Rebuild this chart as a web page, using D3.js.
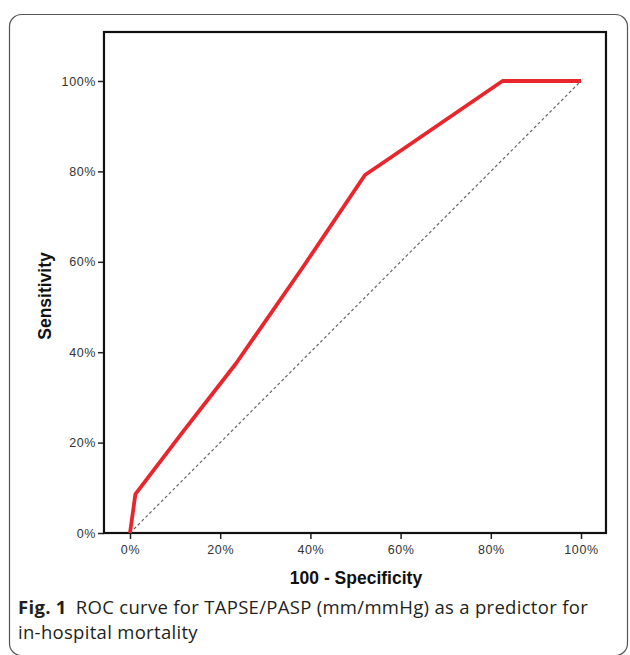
<!DOCTYPE html>
<html>
<head>
<meta charset="utf-8">
<script src="https://cdn.jsdelivr.net/npm/d3@7"></script>
<style>
  body { margin: 0; background: #fff; }
  svg { display: block; }
</style>
</head>
<body>
<svg id="chart" width="630" height="655"></svg>
<script>
// ROC curve points (fractions)
var fpr = [0, 0.012, 0.115, 0.235, 0.384, 0.521, 0.583, 0.826, 1.0];
var tpr = [0, 0.086, 0.221, 0.375, 0.589, 0.792, 0.834, 1.0, 1.0];
var refLine = [0, 1];
var ticks = [0, 0.2, 0.4, 0.6, 0.8, 1.0];
var tickLabels = ['0%', '20%', '40%', '60%', '80%', '100%'];
var xTitle = '100 - Specificity';
var yTitle = 'Sensitivity';
var captionBold = 'Fig. 1';
var captionLines = ['ROC curve for TAPSE/PASP (mm/mmHg) as a predictor for', 'in-hospital mortality'];

var points = fpr.map(function (f, i) { return {x: f, y: tpr[i]}; });

var svg = d3.select('#chart');

// outer rounded panel
svg.append('rect')
  .attr('x', 9.5).attr('y', 14.5)
  .attr('width', 618).attr('height', 641)
  .attr('rx', 12)
  .style('fill', 'none')
  .style('stroke', '#555')
  .style('stroke-width', 1.2);

var x = d3.scaleLinear().domain([0, 1]).range([130, 581]);
var y = d3.scaleLinear().domain([0, 1]).range([533, 81]);

var frame = {left: x(-0.0577), right: x(1.0554), top: y(1.1084), bottom: y(0)};

// axes
var xAxis = svg.append('g')
  .attr('transform', 'translate(0,' + frame.bottom + ')')
  .call(d3.axisBottom(x).tickValues(ticks).tickSize(6).tickPadding(6)
        .tickFormat(function (d, i) { return tickLabels[i]; }));

var yAxis = svg.append('g')
  .attr('transform', 'translate(' + frame.left + ',0)')
  .call(d3.axisLeft(y).tickValues(ticks).tickSize(6).tickPadding(2)
        .tickFormat(function (d, i) { return tickLabels[i]; }));

[xAxis, yAxis].forEach(function (a) {
  a.select('.domain').remove();
  a.selectAll('line').style('stroke', '#222').style('stroke-width', 1.5);
  a.selectAll('text')
    .style('font-family', '"Liberation Sans", Arial, sans-serif')
    .style('font-size', '12.5px')
    .style('letter-spacing', '0.6px')
    .style('fill', '#333');
});

// plot frame
svg.append('rect')
  .attr('x', frame.left).attr('y', frame.top)
  .attr('width', frame.right - frame.left)
  .attr('height', frame.bottom - frame.top)
  .style('fill', 'none')
  .style('stroke', '#111')
  .style('stroke-width', 2.2);

// reference diagonal
svg.append('line')
  .attr('x1', x(refLine[0])).attr('y1', y(refLine[0]))
  .attr('x2', x(refLine[1])).attr('y2', y(refLine[1]))
  .style('stroke', '#666')
  .style('stroke-width', 1.2)
  .style('stroke-dasharray', '3,2.5');

// ROC curve
var line = d3.line()
  .x(function (d) { return x(d.x); })
  .y(function (d) { return y(d.y); });

svg.append('path')
  .datum(points)
  .attr('d', line)
  .style('fill', 'none')
  .style('stroke', '#e8262b')
  .style('stroke-width', 3.8)
  .style('stroke-linejoin', 'round');

// axis titles
svg.append('text')
  .attr('x', (frame.left + frame.right) / 2 + 1)
  .attr('y', 584)
  .attr('text-anchor', 'middle')
  .style('font-family', '"Liberation Sans", Arial, sans-serif')
  .style('font-weight', 'bold')
  .style('font-size', '17.5px')
  .style('fill', '#111')
  .text(xTitle);

svg.append('text')
  .attr('transform', 'translate(51,' + 296 + ') rotate(-90)')
  .attr('text-anchor', 'middle')
  .style('font-family', '"Liberation Sans", Arial, sans-serif')
  .style('font-weight', 'bold')
  .style('font-size', '17.5px')
  .style('fill', '#111')
  .text(yTitle);

// caption, stretched to the width it has in the figure
var capFont = '"Open Sans", "Noto Sans", sans-serif';
var cap = svg.append('text')
  .attr('x', 18).attr('y', 614)
  .style('font-family', capFont)
  .style('font-size', '18.5px')
  .style('fill', '#231f20');
cap.append('tspan').style('font-weight', 'bold').text(captionBold);
cap.append('tspan').attr('dx', 9).text(captionLines[0]);

var capW = cap.node().getComputedTextLength() + 9;
var n = (captionBold + captionLines[0]).length;
var spacing = Math.max(-0.5, (570 - capW) / n);
cap.style('letter-spacing', spacing + 'px');

svg.append('text')
  .attr('x', 18).attr('y', 639)
  .style('font-family', capFont)
  .style('font-size', '18.5px')
  .style('letter-spacing', spacing + 'px')
  .style('fill', '#231f20')
  .text(captionLines[1]);
</script>
</body>
</html>
